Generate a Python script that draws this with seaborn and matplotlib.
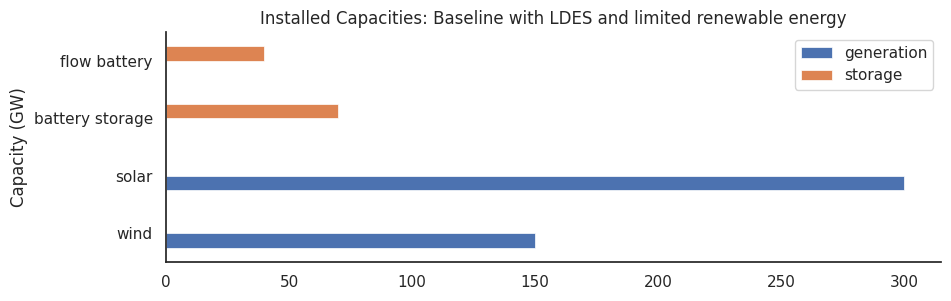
import matplotlib
matplotlib.use("Agg")
import matplotlib.pyplot as plt
import pandas as pd
import seaborn as sns

technologies = ["wind", "solar", "battery storage", "flow battery"]
tech_types = ["generation", "generation", "storage", "storage"]
capacities_gw = [150, 300, 70, 40]
type_order = ["generation", "storage"]

sns.set_theme(style="white")

df = pd.DataFrame({
    "technology": technologies,
    "type": tech_types,
    "capacity": capacities_gw,
})

fig, ax = plt.subplots(figsize=(9.51, 3.01), dpi=100)
sns.barplot(
    data=df,
    x="capacity",
    y="technology",
    hue="type",
    hue_order=type_order,
    order=technologies,
    orient="h",
    width=0.5,
    dodge=True,
    saturation=1,
    edgecolor="white",
    linewidth=0.5,
    ax=ax,
)
# wind at the bottom, like a pandas barh
ax.invert_yaxis()
ax.set_xlim(0, 315)
ax.set_ylim(-0.5, 3.5)
ax.set_xlabel("")
ax.set_ylabel("Capacity (GW)")
ax.set_title("Installed Capacities: Baseline with LDES and limited renewable energy")
sns.despine(ax=ax)

handles, labels = ax.get_legend_handles_labels()
ax.legend(handles, labels, loc="upper right", title=None)

fig.subplots_adjust(left=166 / 951, right=941 / 951, top=1 - 32 / 301, bottom=1 - 262 / 301)
fig.savefig("out.png", dpi=100)
